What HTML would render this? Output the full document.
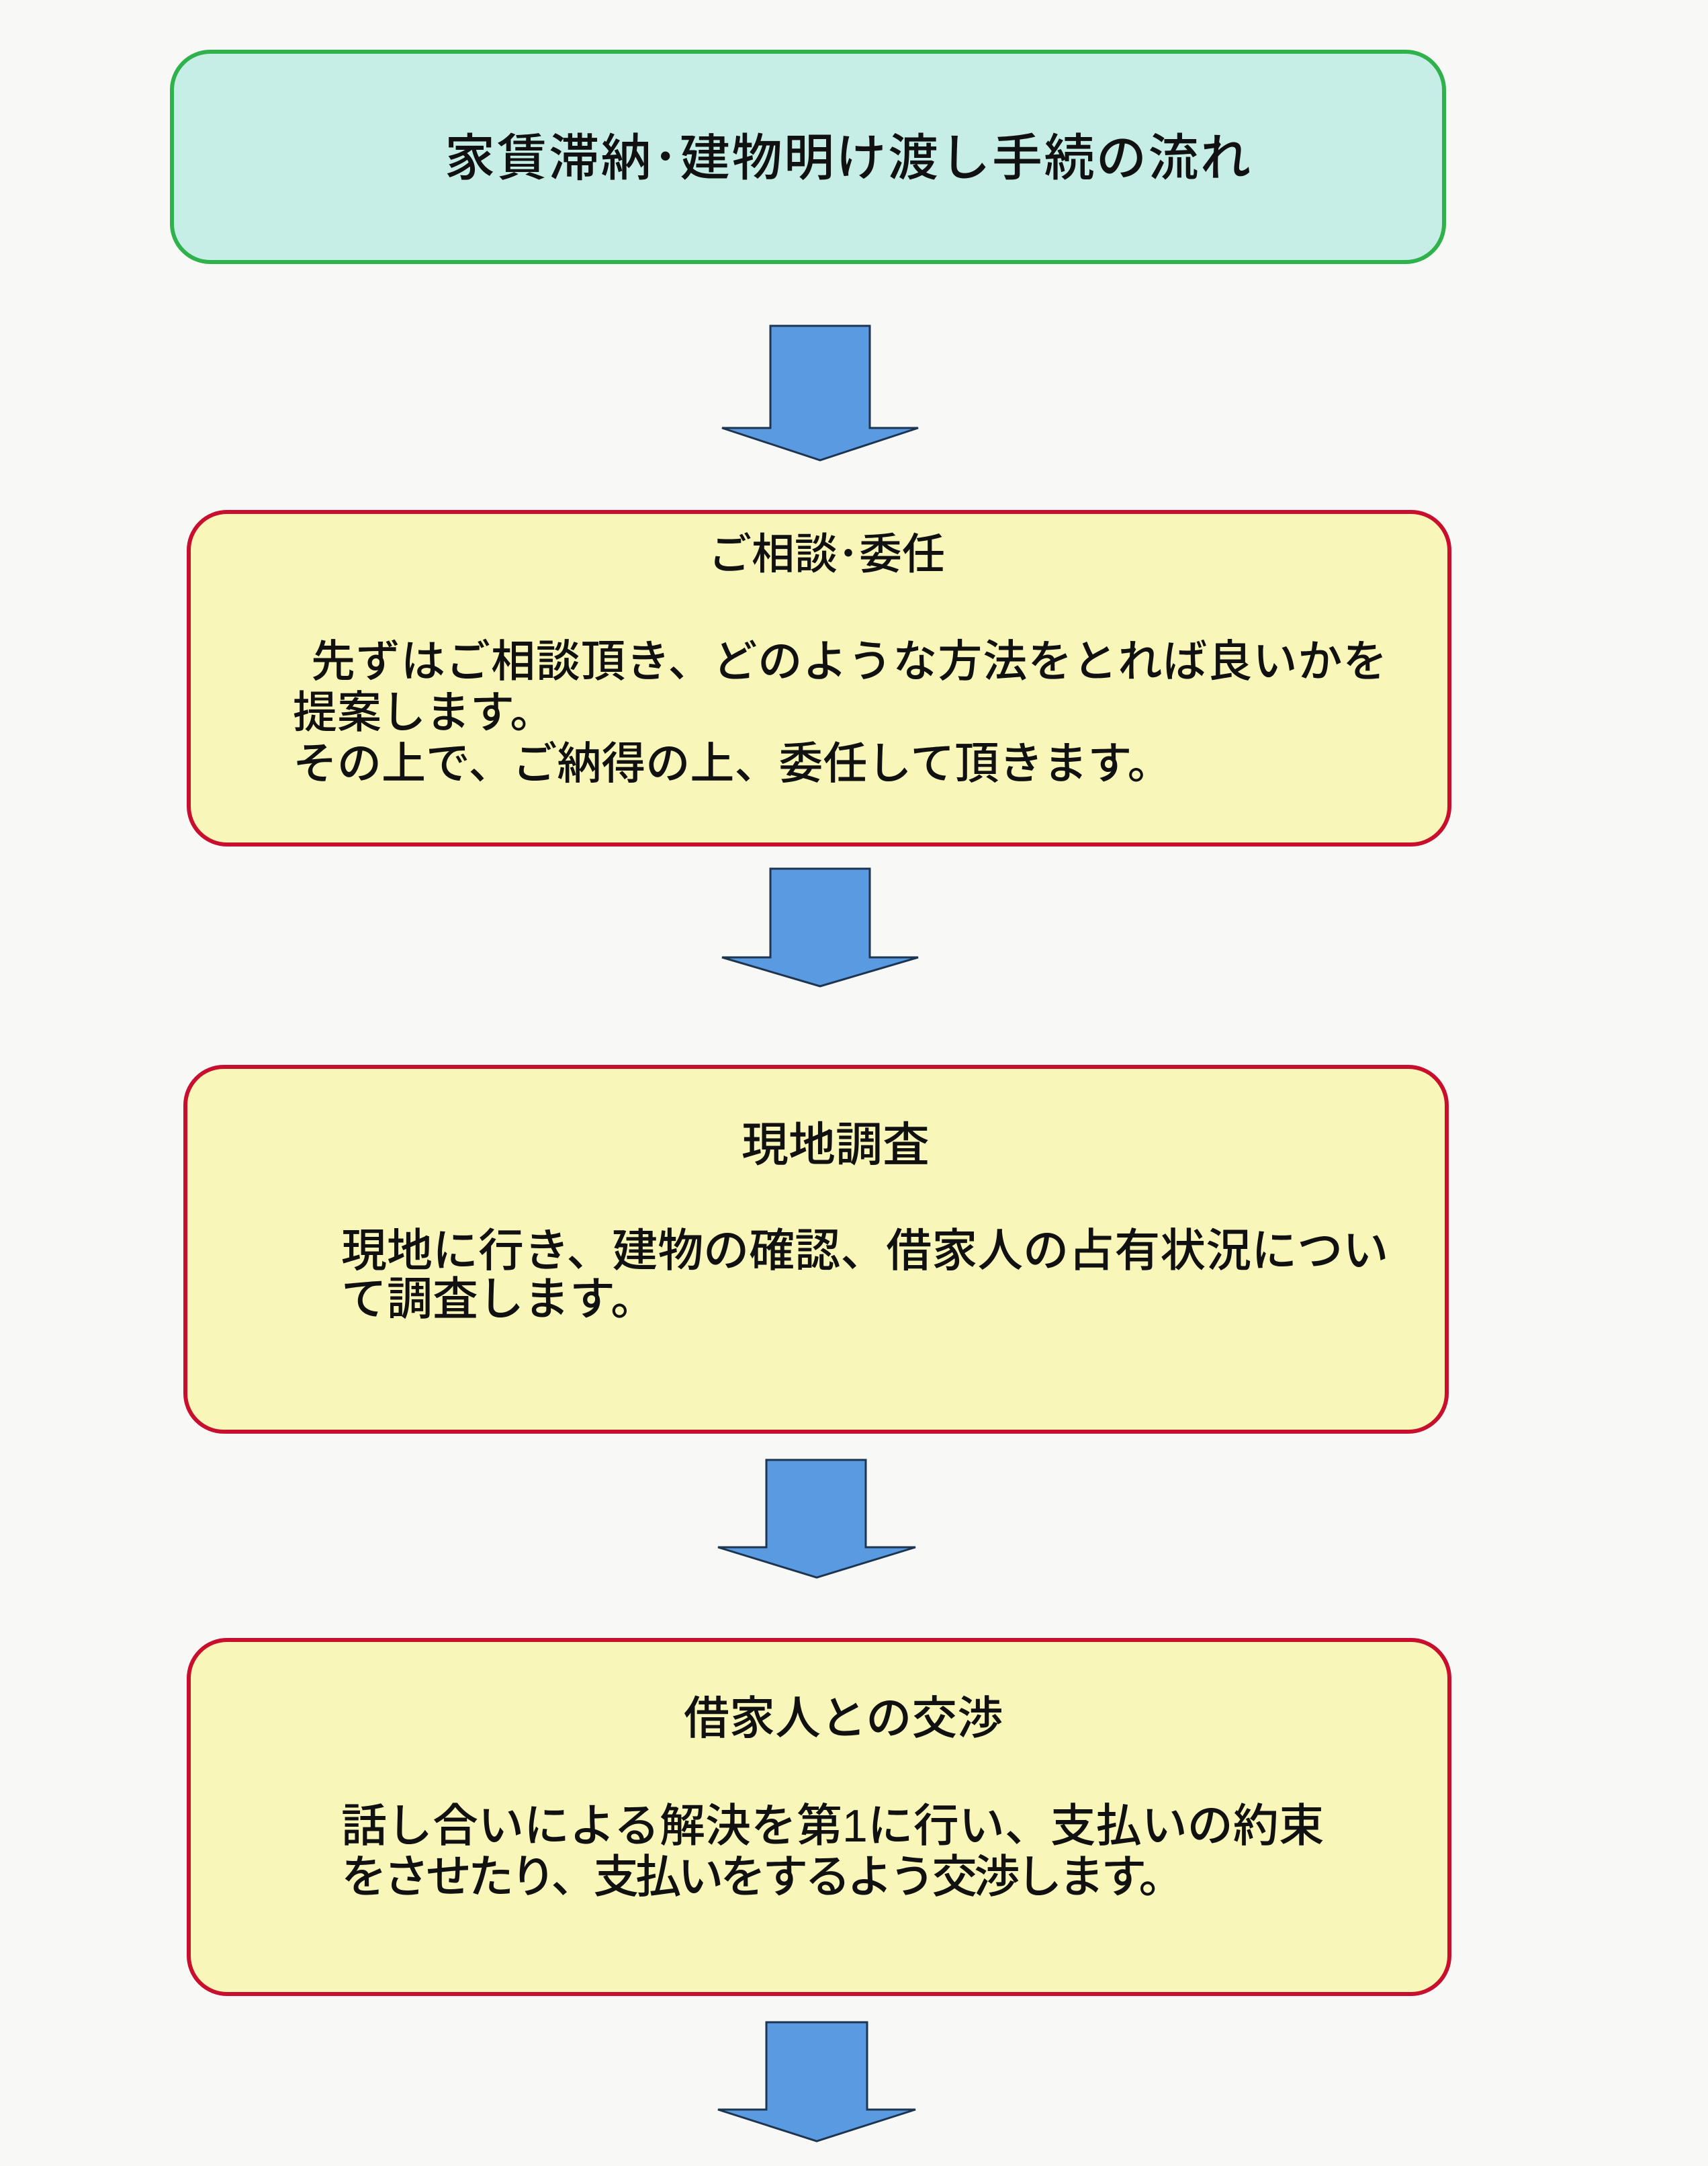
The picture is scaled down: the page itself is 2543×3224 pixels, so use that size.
<!DOCTYPE html>
<html><head><meta charset="utf-8"><style>
html,body{margin:0;padding:0}
body{width:2543px;height:3224px;background:#f8f8f6;position:relative;overflow:hidden;font-family:"Liberation Sans","Noto Sans CJK JP",sans-serif;color:#111}
.box{position:absolute;box-sizing:border-box;border-radius:60px}
.t{position:absolute;white-space:nowrap;line-height:1;font-weight:500}
.g{background:#c6eee7;border:6px solid #2fb24c}
.y{background:#f8f6b9;border:6px solid #c8102e}
svg{position:absolute;left:0;top:0}
</style></head><body>
<div class="box g" style="left:253px;top:74px;width:1900px;height:319px"></div>
<div class="t" style="left:662px;top:198px;font-size:75px;letter-spacing:2.5px">家賃滞納･建物明け渡し手続の流れ</div>

<div class="box y" style="left:278px;top:759px;width:1883px;height:501px"></div>
<div class="t" style="left:1055px;top:793px;font-size:64px">ご相談･委任</div>
<div class="t" style="left:436px;top:946px;font-size:66px;line-height:76px"><span style="margin-left:27px;letter-spacing:1px">先ずはご相談頂き、どのような方法をとれば良いかを</span><br>提案します。<br>その上で、ご納得の上、委任して頂きます。</div>

<div class="box y" style="left:273px;top:1585px;width:1884px;height:549px"></div>
<div class="t" style="left:1104px;top:1669px;font-size:70px">現地調査</div>
<div class="t" style="left:508px;top:1826px;font-size:68px;line-height:72px">現地に行き、建物の確認、借家人の占有状況につい<br>て調査します。</div>

<div class="box y" style="left:278px;top:2438px;width:1883px;height:533px"></div>
<div class="t" style="left:1018px;top:2524px;font-size:68px">借家人との交渉</div>
<div class="t" style="left:508px;top:2680px;font-size:68px;line-height:76px">話し合いによる解決を第1に行い、支払いの約束<br><span style="letter-spacing:-5px">をさせたり、支払いをするよう交渉します。</span></div>

<svg width="2543" height="3224">
<g fill="#5a9ae0" stroke="#1d3550" stroke-width="3">
<polygon points="1147,485 1295,485 1295,637 1367,637 1221,685 1075,637 1147,637"/>
<polygon points="1147,1293 1295,1293 1295,1425 1367,1425 1221,1468 1075,1425 1147,1425"/>
<polygon points="1141,2173 1289,2173 1289,2303 1363,2303 1216,2348 1069,2303 1141,2303"/>
<polygon points="1141,3010 1291,3010 1291,3140 1363,3140 1216,3187 1069,3140 1141,3140"/>
</g>
</svg>
</body></html>
